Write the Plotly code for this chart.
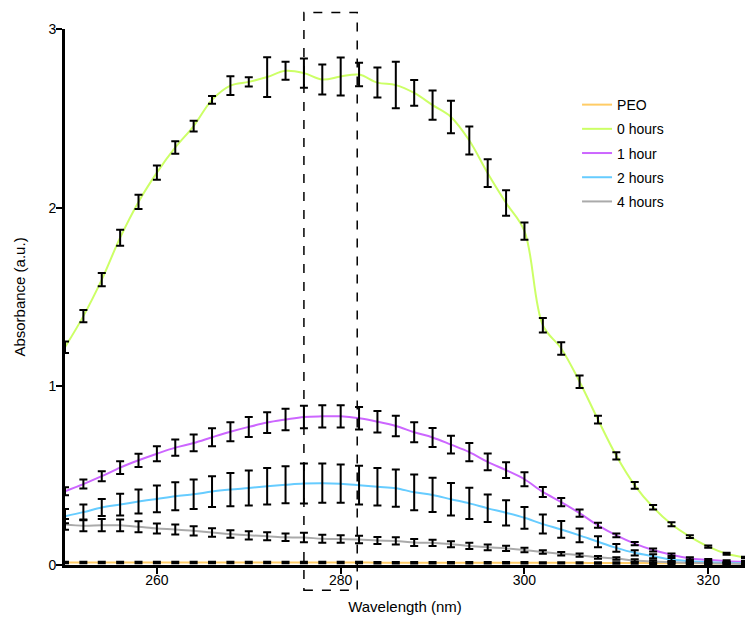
import plotly.graph_objects as go

wavelength = list(range(250, 326, 2))

series_names = ["PEO", "0 hours", "1 hour", "2 hours", "4 hours"]
series_colors = ["#FFCC66", "#CCFF66", "#CC66FF", "#66CCFF", "#AAAAAA"]

peo = [0.014, 0.014, 0.014, 0.014, 0.014, 0.014, 0.014, 0.014, 0.014, 0.014,
       0.014, 0.014, 0.014, 0.014, 0.014, 0.014, 0.014, 0.013, 0.013, 0.013,
       0.013, 0.013, 0.013, 0.013, 0.013, 0.013, 0.012, 0.012, 0.012, 0.011,
       0.011, 0.011, 0.010, 0.010, 0.010, 0.009, 0.009, 0.009]
peo_err = [0.004] * 38

h0 = [1.219, 1.393, 1.597, 1.832, 2.032, 2.196, 2.337, 2.457, 2.603, 2.683,
      2.704, 2.731, 2.766, 2.753, 2.717, 2.734, 2.745, 2.700, 2.686, 2.642,
      2.574, 2.508, 2.376, 2.193, 2.026, 1.869, 1.342, 1.212, 1.026, 0.814,
      0.611, 0.446, 0.323, 0.228, 0.159, 0.103, 0.063, 0.042]
h0_err = [0.032, 0.034, 0.037, 0.045, 0.040, 0.040, 0.035, 0.030, 0.022, 0.053,
          0.026, 0.111, 0.050, 0.082, 0.084, 0.106, 0.066, 0.084, 0.130, 0.072,
          0.082, 0.091, 0.078, 0.078, 0.071, 0.048, 0.040, 0.035, 0.035, 0.022,
          0.020, 0.019, 0.013, 0.011, 0.008, 0.006, 0.005, 0.004]

h1 = [0.413, 0.453, 0.497, 0.545, 0.586, 0.623, 0.657, 0.683, 0.715, 0.746,
      0.773, 0.797, 0.814, 0.829, 0.832, 0.832, 0.821, 0.802, 0.778, 0.743,
      0.714, 0.674, 0.632, 0.577, 0.531, 0.480, 0.409, 0.352, 0.290, 0.222,
      0.166, 0.120, 0.084, 0.057, 0.037, 0.029, 0.021, 0.018]
h1_err = [0.022, 0.025, 0.028, 0.035, 0.037, 0.042, 0.045, 0.047, 0.050, 0.053,
          0.056, 0.058, 0.060, 0.063, 0.062, 0.062, 0.063, 0.060, 0.058, 0.056,
          0.053, 0.050, 0.051, 0.047, 0.044, 0.039, 0.028, 0.023, 0.020, 0.014,
          0.010, 0.009, 0.008, 0.007, 0.006, 0.005, 0.005, 0.004]

h2 = [0.273, 0.296, 0.322, 0.338, 0.355, 0.370, 0.385, 0.396, 0.411, 0.422,
      0.431, 0.441, 0.449, 0.456, 0.458, 0.455, 0.447, 0.438, 0.430, 0.407,
      0.392, 0.368, 0.345, 0.317, 0.292, 0.264, 0.229, 0.199, 0.166, 0.130,
      0.096, 0.068, 0.049, 0.031, 0.021, 0.015, 0.012, 0.010]
h2_err = [0.040, 0.042, 0.048, 0.061, 0.067, 0.075, 0.078, 0.082, 0.086, 0.093,
          0.098, 0.102, 0.104, 0.112, 0.110, 0.107, 0.109, 0.105, 0.104, 0.100,
          0.096, 0.091, 0.087, 0.077, 0.071, 0.061, 0.053, 0.047, 0.038, 0.031,
          0.022, 0.015, 0.011, 0.008, 0.006, 0.005, 0.004, 0.004]

h4 = [0.227, 0.220, 0.223, 0.222, 0.214, 0.204, 0.199, 0.191, 0.182, 0.173,
      0.166, 0.161, 0.155, 0.154, 0.147, 0.145, 0.143, 0.137, 0.135, 0.126,
      0.124, 0.116, 0.107, 0.099, 0.093, 0.084, 0.073, 0.063, 0.055, 0.043,
      0.036, 0.025, 0.020, 0.015, 0.012, 0.010, 0.008, 0.006]
h4_err = [0.030, 0.031, 0.034, 0.033, 0.031, 0.028, 0.028, 0.026, 0.024, 0.021,
          0.023, 0.022, 0.021, 0.026, 0.023, 0.021, 0.021, 0.020, 0.020, 0.020,
          0.018, 0.017, 0.017, 0.016, 0.015, 0.012, 0.010, 0.010, 0.009, 0.008,
          0.007, 0.007, 0.006, 0.005, 0.005, 0.004, 0.004, 0.004]

series_values = [peo, h0, h1, h2, h4]
series_errors = [peo_err, h0_err, h1_err, h2_err, h4_err]

x_ticks = [260, 280, 300, 320]
y_ticks = [0, 1, 2, 3]
x_range = [250, 324]
y_range = [0, 3]
box_x = [276, 281.8]

FONT = "Liberation Sans, Arial, Helvetica, sans-serif"

fig = go.Figure()

for name, color, vals in zip(series_names, series_colors, series_values):
    fig.add_trace(go.Scatter(
        x=wavelength, y=vals, name=name, mode="lines",
        line=dict(color=color, width=2, shape="spline", smoothing=1),
        legendgroup=name, cliponaxis=False,
    ))

for name, vals, errs in zip(series_names, series_values, series_errors):
    fig.add_trace(go.Scatter(
        x=wavelength, y=vals, mode="markers", showlegend=False,
        marker=dict(size=1, color="rgba(0,0,0,0)"),
        error_y=dict(type="data", array=errs, visible=True,
                     color="black", thickness=2, width=4),
        cliponaxis=False, hoverinfo="skip",
    ))

fig.add_shape(
    type="rect", xref="x", yref="paper",
    x0=box_x[0], x1=box_x[1], y0=-0.047, y1=1.031,
    line=dict(color="black", width=1.5, dash="dash"),
    fillcolor="rgba(0,0,0,0)", layer="above",
)

fig.update_layout(
    width=745, height=619,
    margin=dict(l=65, r=0, t=29, b=54),
    paper_bgcolor="white", plot_bgcolor="white",
    font=dict(family=FONT, size=14, color="black"),
    showlegend=True,
    legend=dict(x=0.753, y=0.888, xanchor="left", yanchor="top",
                font=dict(size=14), tracegroupgap=3,
                bgcolor="rgba(0,0,0,0)", borderwidth=0),
    xaxis=dict(range=x_range, tickvals=x_ticks, ticks="outside", ticklen=6,
               tickwidth=2, tickcolor="black", showline=True, linewidth=3,
               linecolor="black", showgrid=False, zeroline=False,
               ticklabelstandoff=-6,
               title=dict(text="Wavelength (nm)", font=dict(size=15), standoff=15),
               tickfont=dict(size=14)),
    yaxis=dict(range=y_range, tickvals=y_ticks, ticks="outside", ticklen=6,
               tickwidth=2, tickcolor="black", showline=True, linewidth=3,
               linecolor="black", showgrid=False, zeroline=False,
               ticklabelstandoff=-3,
               title=dict(text="Absorbance (a.u.)", font=dict(size=15), standoff=20),
               tickfont=dict(size=14)),
)

fig.write_html("out.html", config={"displayModeBar": False},
               post_script="document.body.style.margin='0';")
